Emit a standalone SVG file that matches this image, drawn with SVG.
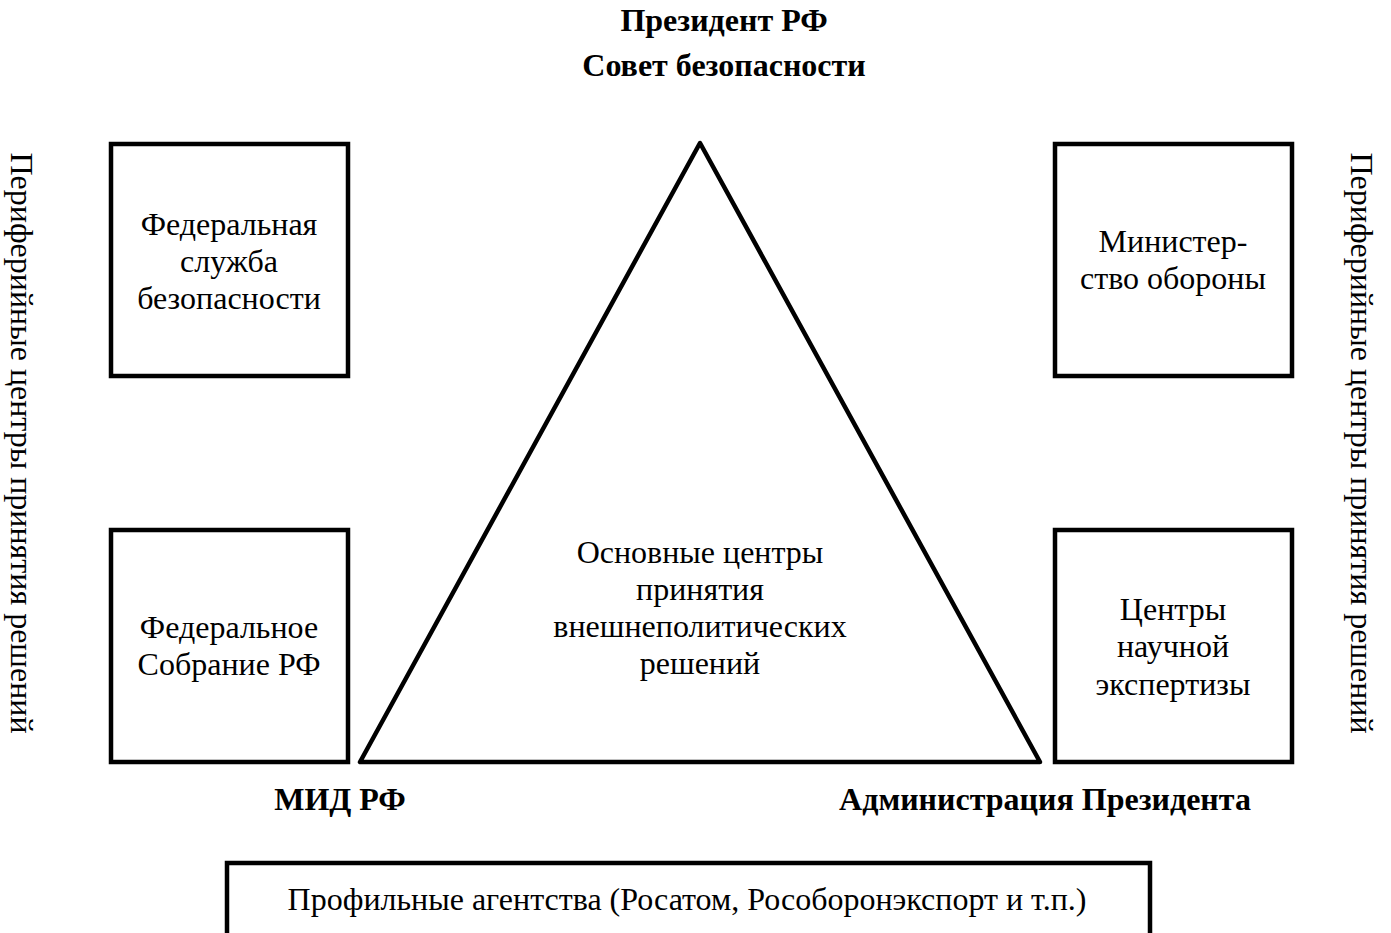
<svg xmlns="http://www.w3.org/2000/svg" width="1391" height="933" viewBox="0 0 1391 933">
<style>
.b{fill:#fff;stroke:#000;stroke-width:4.5}
.t{font-family:"Liberation Serif","Times New Roman",serif;font-size:32px;fill:#000;text-anchor:middle}
.h{font-weight:bold}
</style>
<rect width="1391" height="933" fill="#fff"/>
<g id="top-label"><text class="t h" x="724" y="31">Президент РФ</text><text class="t h" x="724" y="76">Совет безопасности</text></g>
<g id="left-side"><text class="t" transform="translate(11,443) rotate(90)">Периферийные центры принятия решений</text></g>
<g id="right-side"><text class="t" transform="translate(1351,443) rotate(90)">Периферийные центры принятия решений</text></g>
<g id="fsb"><rect class="b" x="111" y="144" width="237" height="232"/><text class="t" x="229" y="235">Федеральная</text><text class="t" x="229" y="272">служба</text><text class="t" x="229" y="309">безопасности</text></g>
<g id="fs"><rect class="b" x="111" y="530" width="237" height="232"/><text class="t" x="229" y="638">Федеральное</text><text class="t" x="229" y="675">Собрание РФ</text></g>
<g id="mo"><rect class="b" x="1055" y="144" width="237" height="232"/><text class="t" x="1173" y="252">Министер-</text><text class="t" x="1173" y="289">ство обороны</text></g>
<g id="science"><rect class="b" x="1055" y="530" width="237" height="232"/><text class="t" x="1173" y="620">Центры</text><text class="t" x="1173" y="657">научной</text><text class="t" x="1173" y="695">экспертизы</text></g>
<g id="core"><polygon class="b" stroke-linejoin="round" points="700,143 360,762 1040,762"/><text class="t" x="700" y="563">Основные центры</text><text class="t" x="700" y="600">принятия</text><text class="t" x="700" y="637">внешнеполитических</text><text class="t" x="700" y="674">решений</text></g>
<g id="mid"><text class="t h" x="340" y="810">МИД РФ</text></g>
<g id="admin"><text class="t h" x="1045" y="810">Администрация Президента</text></g>
<g id="agencies"><rect class="b" x="227" y="863" width="923" height="90"/><text class="t" x="687" y="910">Профильные агентства (Росатом, Рособоронэкспорт и т.п.)</text></g>
<g id="connectors"/>
</svg>
